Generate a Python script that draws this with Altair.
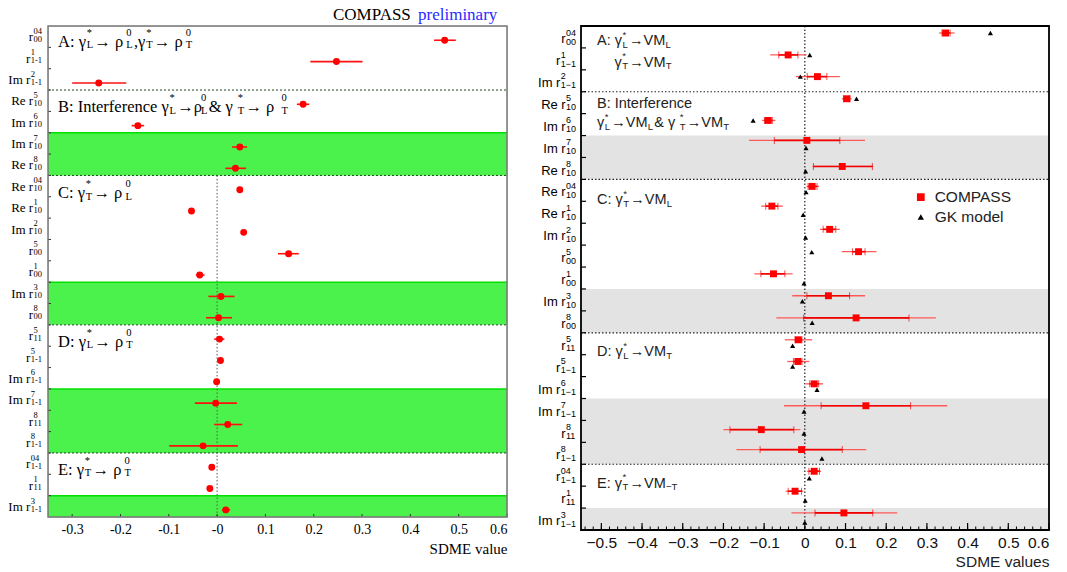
import altair as alt
import pandas as pd

# ---------------------------------------------------------------- data
NROW = 23
row_prefix = ["", "", "Im ", "Re ", "Im ", "Im ", "Re ", "Re ", "Re ", "Im ", "", "",
              "Im ", "", "", "", "Im ", "Im ", "", "", "", "", "Im "]
row_sup = ["04", "1", "2", "5", "6", "7", "8", "04", "1", "2", "5", "1",
           "3", "8", "5", "5", "6", "7", "8", "8", "04", "1", "3"]
row_sub = ["00", "1-1", "1-1", "10", "10", "10", "10", "10", "10", "10", "00", "00",
           "10", "00", "11", "1-1", "1-1", "1-1", "11", "1-1", "1-1", "11", "1-1"]

# left panel (COMPASS preliminary, rho0)
left_val = [0.471, 0.247, -0.245, 0.178, -0.164, 0.047, 0.038, 0.047, -0.053, 0.055, 0.148, -0.036,
            0.008, 0.003, 0.005, 0.007, -0.001, -0.003, 0.022, -0.029, -0.011, -0.015, 0.018]
left_lo = [0.449, 0.193, -0.300, 0.165, -0.177, 0.031, 0.017, 0.047, -0.053, 0.055, 0.126, -0.044,
           -0.018, -0.023, -0.006, 0.007, -0.001, -0.046, -0.006, -0.099, -0.011, -0.015, 0.010]
left_hi = [0.494, 0.301, -0.188, 0.191, -0.151, 0.062, 0.060, 0.047, -0.053, 0.055, 0.169, -0.026,
           0.036, 0.031, 0.015, 0.007, -0.001, 0.041, 0.052, 0.043, -0.011, -0.015, 0.027]

# right panel (COMPASS vs GK model)
cmp_val = [0.346, -0.041, 0.031, 0.103, -0.090, 0.005, 0.092, 0.018, -0.081, 0.061, 0.132, -0.077,
           0.058, 0.126, -0.016, -0.017, 0.023, 0.150, -0.107, -0.008, 0.023, -0.024, 0.096]
cmp_tot_lo = [0.330, -0.085, -0.022, 0.091, -0.105, -0.137, 0.019, 0.004, -0.107, 0.037, 0.091, -0.124,
              -0.031, -0.070, -0.049, -0.043, 0.003, -0.051, -0.200, -0.168, 0.005, -0.047, -0.033]
cmp_tot_hi = [0.368, 0.004, 0.086, 0.115, -0.072, 0.148, 0.168, 0.035, -0.054, 0.086, 0.176, -0.030,
              0.148, 0.322, 0.018, 0.011, 0.045, 0.350, -0.011, 0.151, 0.040, -0.004, 0.227]
cmp_stat_lo = [0.337, -0.064, 0.006, 0.095, -0.099, -0.075, 0.021, 0.008, -0.096, 0.045, 0.117, -0.108,
               0.005, -0.003, -0.024, -0.028, 0.012, 0.040, -0.184, -0.110, 0.010, -0.041, 0.025]
cmp_stat_hi = [0.357, -0.017, 0.054, 0.111, -0.080, 0.086, 0.166, 0.030, -0.066, 0.076, 0.148, -0.049,
               0.110, 0.256, -0.007, -0.007, 0.034, 0.260, -0.027, 0.092, 0.036, -0.008, 0.167]
cmp_row_pos = [0.32, 0.32, 0.31, 0.32, 0.31, 0.22, 0.41, 0.32, 0.22, 0.28, 0.30, 0.31,
               0.31, 0.32, 0.32, 0.31, 0.33, 0.33, 0.42, 0.33, 0.32, 0.23, 0.22]
gk_val = [0.456, 0.012, -0.011, 0.127, -0.127, 0.003, 0.002, 0.003, -0.004, 0.002, 0.017, -0.002,
          -0.006, 0.018, -0.030, -0.030, 0.030, -0.002, -0.002, 0.042, 0.011, 0.001, 0.000]
gk_row_pos = [0.32, 0.32, 0.31, 0.32, 0.31, 0.57, 0.63, 0.58, 0.61, 0.65, 0.32, 0.74,
              0.56, 0.54, 0.59, 0.54, 0.60, 0.59, 0.60, 0.74, 0.64, 0.66, 0.66]

shaded_bands = [(5, 7), (12, 14), (17, 20), (22, 23)]
group_bounds = [3, 7, 14, 20]

left_x_ticks = [-0.3, -0.2, -0.1, 0.0, 0.1, 0.2, 0.3, 0.4, 0.5, 0.6]
right_x_ticks = [-0.5, -0.4, -0.3, -0.2, -0.1, 0.0, 0.1, 0.2, 0.3, 0.4, 0.5, 0.6]
right_minor_ticks = [round(-0.54 + 0.02 * k, 2) for k in range(58)]

# group labels: str = normal text, tuple = (superscript, subscript)
left_groups = [
    (0.98, ["A: γ", ("*", "L"), " → ρ", ("0", "L"), ",γ", ("*", "T"), " → ρ", ("0", "T")]),
    (4.03, ["B: Interference γ", ("*", "L"), "→ρ", ("0", "L"), " & γ", ("*", "T"), "  → ρ", ("0", "T")]),
    (8.07, ["C: γ", ("*", "T"), " → ρ", ("0", "L")]),
    (15.02, ["D: γ", ("*", "L"), " → ρ", ("0", "T")]),
    (21.03, ["E: γ", ("*", "T"), " → ρ", ("0", "T")]),
]
right_groups = [
    (0, 0.88, ["A: γ", ("*", "L"), " →VM", ("", "L")]),
    (17.5, 1.87, ["γ", ("*", "T"), " →VM", ("", "T")]),
    (0, 3.73, ["B: Interference"]),
    (0, 4.61, ["γ", ("*", "L"), " →VM", ("", "L"), " & γ", ("*", "T"), " →VM", ("", "T")]),
    (0, 8.14, ["C: γ", ("*", "T"), " →VM", ("", "L")]),
    (0, 15.08, ["D: γ", ("*", "L"), " →VM", ("", "T")]),
    (0, 21.08, ["E: γ", ("*", "T"), " →VM", ("", "−T")]),
]
legend_items = ["COMPASS", "GK model"]

# ---------------------------------------------------------------- geometry / styles
LW, LH = 459, 491
RW, RH = 468, 504
LXD = [-0.35, 0.6]
RXD = [-0.55, 0.6]
SERIF = "Liberation Serif"
SANS = "Liberation Sans"

SERIF_W = {" ": 250, ":": 278, ",": 250, "-": 333, "&": 778, "*": 500, "→": 820, "γ": 440, "ρ": 570,
           "A": 722, "B": 667, "C": 667, "D": 722, "E": 611, "I": 333, "L": 611, "T": 611, "M": 889,
           "a": 444, "c": 444, "e": 444, "f": 333, "m": 778, "n": 500, "r": 333, "t": 278, "R": 667}
SANS_W = {" ": 278, ":": 278, ",": 278, "-": 333, "−": 584, "&": 667, "*": 389, "→": 680, "γ": 480,
          "A": 667, "B": 667, "C": 722, "D": 722, "E": 667, "I": 278, "L": 556, "T": 611, "M": 833,
          "V": 667, "a": 556, "c": 500, "e": 556, "f": 278, "m": 833, "n": 556, "r": 333, "t": 278, "R": 722}


def tw(s, size, table):
    dflt = 556 if table is SANS_W else 500
    return sum(table.get(c, dflt) for c in s) * size / 1000.0


def rich(pieces, x0px, base_row, size, table, sup_dy, sub_dy, sfac, rowh, W, XD):
    out = []
    x = x0px
    for p in pieces:
        if isinstance(p, str):
            out.append((p, x, 0.0, size))
            x += tw(p, size, table)
        else:
            sup, sub = p
            ss = size * sfac
            if sup:
                out.append((sup, x + 0.8, sup_dy, ss))
            if sub:
                out.append((sub, x + 0.8, sub_dy, ss))
            x += max(tw(sup, ss, table), tw(sub, ss, table)) + 2
    return [dict(text=t, x=XD[0] + px / W * (XD[1] - XD[0]), y=base_row + dy / rowh, fs=fs)
            for (t, px, dy, fs) in out]


# ---------------------------------------------------------------- scales / axes
lxs = alt.Scale(domain=LXD, nice=False, zero=False)
lys = alt.Scale(domain=[0, NROW], reverse=True, nice=False, zero=False)
rxs = alt.Scale(domain=RXD, nice=False, zero=False)
rys = alt.Scale(domain=[0, NROW], reverse=True, nice=False, zero=False)

LAXIS = alt.Axis(values=left_x_ticks,
                 labelExpr="datum.value == 0 ? '-0' : replace(replace(format(datum.value, '.1f'), '\u2212', '-'), '\u2212', '-')",
                 tickSize=0, domain=False, grid=False, labelFont=SERIF, labelFontSize=14,
                 labelColor="black", labelPadding=5, title="SDME value", titleFont=SERIF,
                 titleFontSize=15, titleFontWeight="normal", titleColor="black",
                 titleAnchor="end", titlePadding=5)
RAXIS = alt.Axis(values=right_x_ticks,
                 labelExpr="datum.value == 0 ? '0' : replace(format(datum.value, '.1f'), '-', '\u2212')",
                 tickSize=0, domain=False, grid=False, labelFont=SANS, labelFontSize=15.5,
                 labelColor="#111", labelPadding=5, title="SDME values", titleFont=SANS,
                 titleFontSize=15.5, titleFontWeight="normal", titleColor="#222",
                 titleAnchor="end", titlePadding=4)


def LX(f):
    return alt.X(f, scale=lxs, axis=LAXIS)


def LY(f):
    return alt.Y(f, scale=lys, axis=None)


def RX(f):
    return alt.X(f, scale=rxs, axis=RAXIS)


def RY(f):
    return alt.Y(f, scale=rys, axis=None)


def text_layer(df, X, Y, font, color="black", align="left"):
    return alt.Chart(df).mark_text(align=align, baseline="alphabetic", font=font, color=color).encode(
        x=X("x:Q"), y=Y("y:Q"), text="text:N",
        size=alt.Size("fs:Q", scale=None, legend=None),
    )


def row_labels(W, H, XD, X, Y, font, table, base_size, script_size, base_frac, sup_dy, sub_dy, end_px, subs):
    rowh = H / NROW
    base_rows, script_rows = [], []
    for i in range(NROW):
        sw = max(tw(row_sup[i], script_size, table), tw(subs[i], script_size, table))
        start = end_px - sw
        base_rows.append(dict(text=row_prefix[i] + "r", x=XD[0] + (start - 0.3) / W * (XD[1] - XD[0]),
                              y=i + base_frac, fs=base_size))
        script_rows.append(dict(text=row_sup[i], x=XD[0] + start / W * (XD[1] - XD[0]),
                                y=i + base_frac + sup_dy / rowh, fs=script_size))
        script_rows.append(dict(text=subs[i], x=XD[0] + start / W * (XD[1] - XD[0]),
                                y=i + base_frac + sub_dy / rowh, fs=script_size))
    return [text_layer(pd.DataFrame(base_rows), X, Y, font, align="right"),
            text_layer(pd.DataFrame(script_rows), X, Y, font, align="left")]


# ================================================================ LEFT PANEL
bands_df = pd.DataFrame([dict(y0=a, y1=b) for a, b in shaded_bands])
sep_df = pd.DataFrame(dict(y=group_bounds))

l_anchor = alt.Chart(pd.DataFrame(dict(a=[0]))).mark_rule(opacity=0).encode(
    x=alt.value(-47.5), x2=alt.value(-47.5), y=alt.value(-25), y2=alt.value(0))
l_bands = alt.Chart(bands_df).mark_rect(fill="#4cf24c").encode(
    x=alt.value(0), x2=alt.value(LW), y=LY("y0:Q"), y2="y1:Q")
l_band_top = alt.Chart(bands_df).mark_rule(color="#00e000", strokeWidth=1.5).encode(
    x=alt.value(0), x2=alt.value(LW), y=LY("y0:Q"))
l_sep = alt.Chart(sep_df).mark_rule(color="#224422", strokeDash=[2, 2], strokeWidth=1).encode(
    x=alt.value(0), x2=alt.value(LW), y=LY("y:Q"))
l_zero = alt.Chart(pd.DataFrame(dict(x=[0.0], y0=[7], y1=[NROW]))).mark_rule(
    color="#555", strokeDash=[1.5, 2], strokeWidth=1).encode(x=LX("x:Q"), y=LY("y0:Q"), y2="y1:Q")

left_df = pd.DataFrame(dict(row=[i + 0.667 for i in range(NROW)], val=left_val, lo=left_lo, hi=left_hi))
l_err = alt.Chart(left_df).mark_rule(color="#ff1010", strokeWidth=1.6).encode(
    x=LX("lo:Q"), x2="hi:Q", y=LY("row:Q"))
l_pts = alt.Chart(left_df).mark_circle(color="#ff0000", opacity=1, size=48).encode(
    x=LX("val:Q"), y=LY("row:Q"))

l_yticks = alt.Chart(pd.DataFrame(dict(y=list(range(1, NROW))))).mark_rule(color="#333").encode(
    x=alt.value(0), x2=alt.value(3), y=LY("y:Q"))
l_xticks = alt.Chart(pd.DataFrame(dict(x=left_x_ticks))).mark_rule(color="#333").encode(
    x=LX("x:Q"), y=alt.value(LH), y2=alt.value(LH - 3))
l_frame = alt.Chart(pd.DataFrame(dict(a=[0]))).mark_rect(fillOpacity=0, stroke="#777", strokeWidth=1.5).encode(
    x=alt.value(0), x2=alt.value(LW), y=alt.value(0), y2=alt.value(LH))

l_labels = row_labels(LW, LH, LXD, LX, LY, SERIF, SERIF_W, 13, 8.5, 0.72, -7.5, 0.5, -6, row_sub)

lg_rows = []
for r, pieces in left_groups:
    lg_rows += rich(pieces, 10, r, 16.5, SERIF_W, -11.0, 1.5, 0.64, LH / NROW, LW, LXD)
l_groups = text_layer(pd.DataFrame(lg_rows), LX, LY, SERIF)

title_y = -5.7 / (LH / NROW)
l_title1 = text_layer(pd.DataFrame([dict(text="COMPASS", x=LXD[0] + 285 / LW * 0.95, y=title_y, fs=17)]),
                      LX, LY, SERIF)
l_title2 = text_layer(pd.DataFrame([dict(text="preliminary", x=LXD[0] + 370 / LW * 0.95, y=title_y, fs=17)]),
                      LX, LY, SERIF, color="#2a2aff")

left = alt.layer(l_anchor, l_bands, l_band_top, l_sep, l_zero, l_err, l_pts, l_yticks, l_xticks, l_frame,
                 *l_labels, l_groups, l_title1, l_title2).properties(width=LW, height=LH)

# ================================================================ RIGHT PANEL
r_bands = alt.Chart(bands_df).mark_rect(fill="#e3e3e3").encode(
    x=alt.value(0), x2=alt.value(RW), y=RY("y0:Q"), y2="y1:Q")
r_sep = alt.Chart(sep_df).mark_rule(color="#222", strokeDash=[1.5, 2], strokeWidth=1.2).encode(
    x=alt.value(0), x2=alt.value(RW), y=RY("y:Q"))
r_zero = alt.Chart(pd.DataFrame(dict(x=[0.0], y0=[0], y1=[NROW]))).mark_rule(
    color="#222", strokeDash=[1.5, 2], strokeWidth=1.2).encode(x=RX("x:Q"), y=RY("y0:Q"), y2="y1:Q")

right_df = pd.DataFrame(dict(row=[i + f for i, f in enumerate(cmp_row_pos)], val=cmp_val,
                             tlo=cmp_tot_lo, thi=cmp_tot_hi, slo=cmp_stat_lo, shi=cmp_stat_hi))
gk_df = pd.DataFrame(dict(row=[i + f for i, f in enumerate(gk_row_pos)], val=gk_val))

r_tot = alt.Chart(right_df).mark_rule(color="#ff5a5a", strokeWidth=1.3).encode(
    x=RX("tlo:Q"), x2="thi:Q", y=RY("row:Q"))
r_stat = alt.Chart(right_df).mark_rule(color="#f00000", strokeWidth=1.6).encode(
    x=RX("slo:Q"), x2="shi:Q", y=RY("row:Q"))
r_cap1 = alt.Chart(right_df).mark_tick(color="#f00000", orient="vertical", size=7, thickness=1).encode(
    x=RX("slo:Q"), y=RY("row:Q"))
r_cap2 = alt.Chart(right_df).mark_tick(color="#f00000", orient="vertical", size=7, thickness=1).encode(
    x=RX("shi:Q"), y=RY("row:Q"))
r_sq = alt.Chart(right_df).mark_square(color="#ff0000", opacity=1, size=48).encode(
    x=RX("val:Q"), y=RY("row:Q"))
r_gk = alt.Chart(gk_df).mark_point(shape="triangle-up", filled=True, color="black", opacity=1, size=26).encode(
    x=RX("val:Q"), y=RY("row:Q"))

r_major = alt.Chart(pd.DataFrame(dict(x=right_x_ticks))).mark_rule(color="black", strokeWidth=1.2).encode(
    x=RX("x:Q"), y=alt.value(RH), y2=alt.value(RH - 7))
r_minor = alt.Chart(pd.DataFrame(dict(x=right_minor_ticks))).mark_rule(color="black", strokeWidth=1).encode(
    x=RX("x:Q"), y=alt.value(RH), y2=alt.value(RH - 3.5))
r_yticks = alt.Chart(pd.DataFrame(dict(y=list(range(1, NROW))))).mark_rule(color="black", strokeWidth=1.2).encode(
    x=alt.value(0), x2=alt.value(5), y=RY("y:Q"))
r_frame = alt.Chart(pd.DataFrame(dict(a=[0]))).mark_rect(fillOpacity=0, stroke="black", strokeWidth=1.8).encode(
    x=alt.value(0), x2=alt.value(RW), y=alt.value(0), y2=alt.value(RH))

r_labels = row_labels(RW, RH, RXD, RX, RY, SANS, SANS_W, 13, 9, 0.78, -7.5, 1.5, -5,
                      [s.replace("-", "\u2212") for s in row_sub])

rg_rows = []
for xoff, r, pieces in right_groups:
    rg_rows += rich(pieces, 16 + xoff, r, 14.5, SANS_W, -7.5, 2.5, 0.66, RH / NROW, RW, RXD)
r_groups = text_layer(pd.DataFrame(rg_rows), RX, RY, SANS, color="#222")

leg_df = pd.DataFrame(dict(x=[0.285, 0.285], y=[7.81, 8.72], tx=[0.319, 0.319], label=legend_items))
r_leg_sq = alt.Chart(leg_df.iloc[[0]]).mark_square(color="#ff0000", opacity=1, size=60).encode(
    x=RX("x:Q"), y=RY("y:Q"))
r_leg_tr = alt.Chart(leg_df.iloc[[1]]).mark_point(shape="triangle-up", filled=True, color="black",
                                                   opacity=1, size=40).encode(x=RX("x:Q"), y=RY("y:Q"))
r_leg_tx = alt.Chart(leg_df).mark_text(align="left", baseline="middle", font=SANS, fontSize=15.5,
                                       color="#222").encode(x=RX("tx:Q"), y=RY("y:Q"), text="label:N")

right = alt.layer(r_bands, r_sep, r_zero, r_tot, r_stat, r_cap1, r_cap2, r_sq, r_gk, r_major, r_minor,
                  r_yticks, r_frame, *r_labels, r_groups, r_leg_sq, r_leg_tr, r_leg_tx).properties(
    width=RW, height=RH)

chart = alt.hconcat(left, right, spacing=74, bounds="flush").properties(
    padding={"left": 0, "top": 0, "right": 5, "bottom": 5},
).configure_view(stroke=None).configure(background="white")

chart.save("out.html", embed_options={"renderer": "svg", "actions": False})
